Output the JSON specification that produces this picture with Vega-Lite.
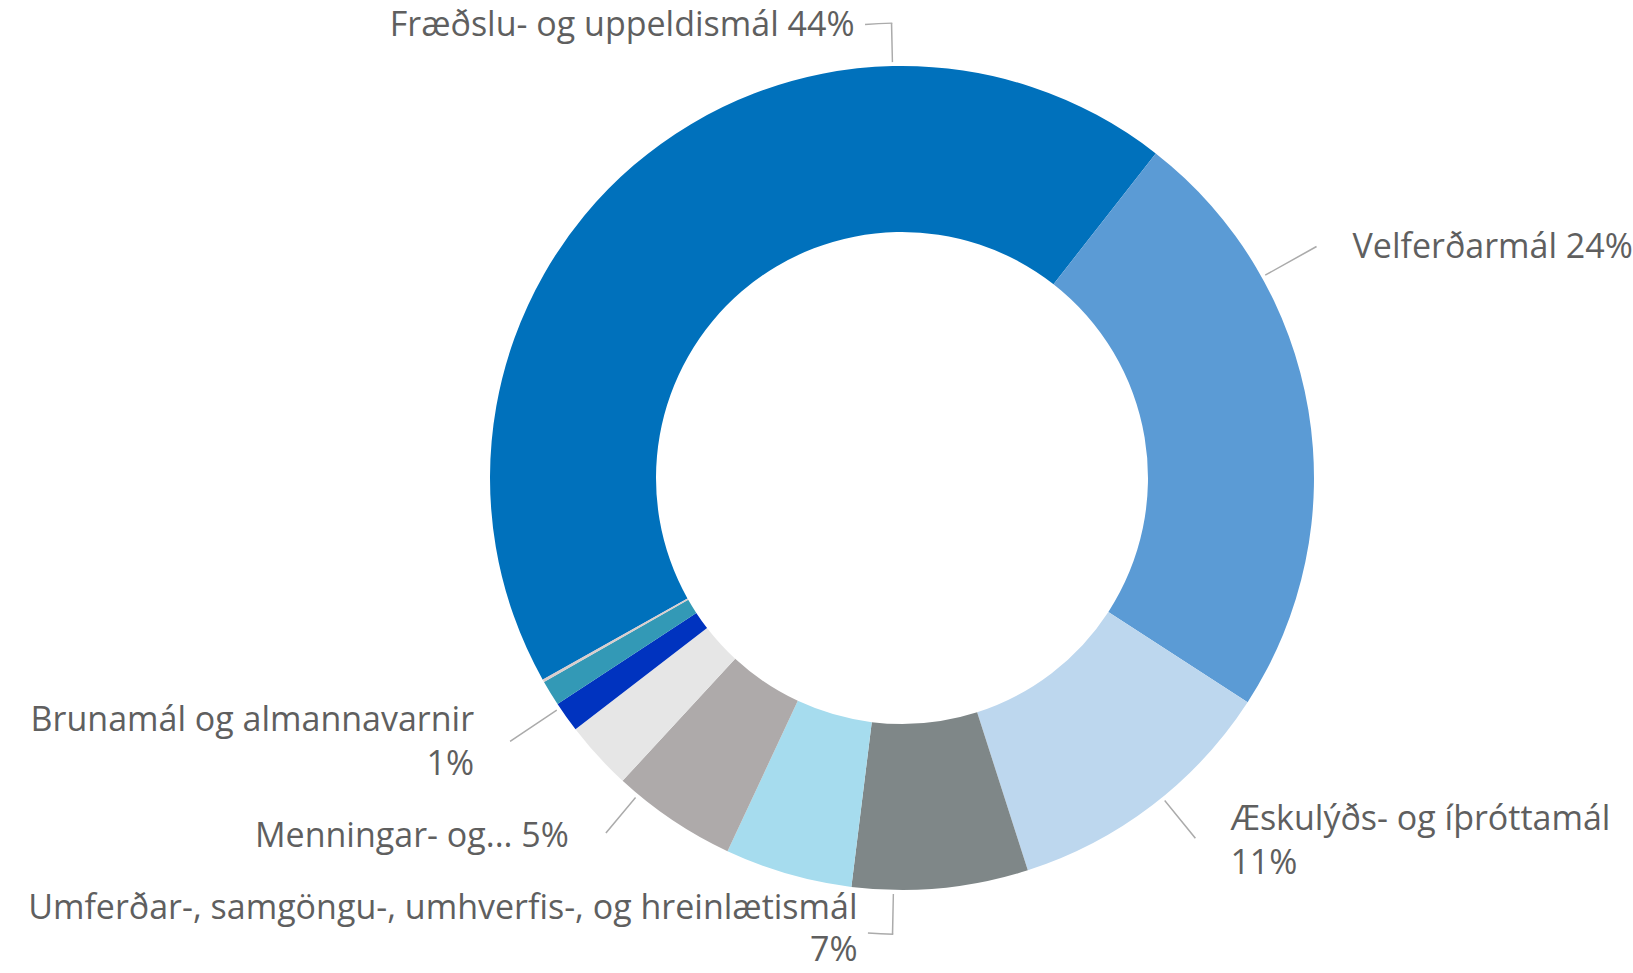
{
  "$schema": "https://vega.github.io/schema/vega-lite/v6.json",
  "width": 1462,
  "height": 956,
  "autosize": {"type": "none"},
  "padding": {"left": 171, "top": 0, "right": 0, "bottom": 17},
  "background": "white",
  "config": {"view": {"stroke": null}},
  "data": {
    "values": [
      {"category": "Fræðslu- og uppeldismál", "value": 43.7, "order": 1, "label": "Fræðslu- og uppeldismál 44%"},
      {"category": "Velferðarmál", "value": 23.6, "order": 2, "label": "Velferðarmál 24%"},
      {"category": "Æskulýðs- og íþróttamál", "value": 10.9, "order": 3, "label": "Æskulýðs- og íþróttamál\n11%"},
      {"category": "Umferðar-, samgöngu-, umhverfis-, og hreinlætismál", "value": 6.9, "order": 4, "label": "Umferðar-, samgöngu-, umhverfis-, og hreinlætismál\n7%"},
      {"category": "Flokkur 5", "value": 5.0, "order": 5, "label": ""},
      {"category": "Menningar- og...", "value": 4.9, "order": 6, "label": "Menningar- og... 5%"},
      {"category": "Flokkur 7", "value": 2.7, "order": 7, "label": ""},
      {"category": "Brunamál og almannavarnir", "value": 1.2, "order": 8, "label": "Brunamál og almannavarnir\n1%"},
      {"category": "Flokkur 9", "value": 1.0, "order": 9, "label": ""},
      {"category": "Flokkur 10", "value": 0.1, "order": 10, "label": ""}
    ]
  },
  "layer": [
    {
      "mark": {"type": "arc", "radius": 412, "radius2": 246, "strokeWidth": 0},
      "encoding": {
        "theta": {"field": "value", "type": "quantitative", "stack": true, "scale": {"type": "linear", "domain": [0, 100], "range": [4.201, 10.4842], "zero": true}},
        "color": {
          "field": "category",
          "type": "nominal",
          "legend": null,
          "scale": {
            "domain": ["Fræðslu- og uppeldismál", "Velferðarmál", "Æskulýðs- og íþróttamál", "Umferðar-, samgöngu-, umhverfis-, og hreinlætismál", "Flokkur 5", "Menningar- og...", "Flokkur 7", "Brunamál og almannavarnir", "Flokkur 9", "Flokkur 10"],
            "range": ["#0071BC", "#5B9BD5", "#BDD7EE", "#7F8788", "#A6DCEE", "#AEAAAA", "#E6E6E6", "#0033BF", "#3399B6", "#D9CDCD"]
          }
        },
        "order": {"field": "order", "type": "quantitative", "sort": "ascending"}
      }
    },
    {
      "transform": [
        {"stack": "value", "groupby": [], "sort": [{"field": "order", "order": "ascending"}], "as": ["v0", "v1"]},
        {"fold": ["v0", "v1"], "as": ["edge", "pos"]},
        {"aggregate": [{"op": "mean", "field": "pos", "as": "mid"}], "groupby": ["category", "label", "order"]}
      ],
      "layer": [
        {
          "transform": [{"filter": "datum.order === 1"}],
          "mark": {"type": "arc", "radius": 455, "radius2": 416, "thetaOffset": 0.6846, "theta2Offset": 0.688, "color": "#ABABAB"},
          "encoding": {
            "theta": {"field": "mid", "type": "quantitative", "stack": null, "scale": {"type": "linear", "domain": [0, 100], "range": [4.201, 10.4842], "zero": true}},
            "theta2": {"field": "mid"}
          }
        },
        {
          "transform": [{"filter": "datum.order === 1"}],
          "mark": {"type": "arc", "radius": 455.7, "radius2": 454.3, "thetaOffset": 0.688, "theta2Offset": 0.628, "color": "#ABABAB"},
          "encoding": {
            "theta": {"field": "mid", "type": "quantitative", "stack": null, "scale": {"type": "linear", "domain": [0, 100], "range": [4.201, 10.4842], "zero": true}},
            "theta2": {"field": "mid"}
          }
        },
        {
          "transform": [{"filter": "datum.order === 1"}],
          "mark": {"type": "text", "radius": 455, "thetaOffset": 0.6863, "dx": -37, "dy": 3, "align": "right", "baseline": "middle", "font": "Open Sans", "fontSize": 34, "color": "#5F5F5F", "lineBreak": "\n", "lineHeight": 44},
          "encoding": {
            "theta": {"field": "mid", "type": "quantitative", "stack": null, "scale": {"type": "linear", "domain": [0, 100], "range": [4.201, 10.4842], "zero": true}},
            "text": {"field": "label"}
          }
        },
        {
          "transform": [{"filter": "datum.order === 2"}],
          "mark": {"type": "arc", "radius": 474.8, "radius2": 416, "thetaOffset": -0.3452, "theta2Offset": -0.3418, "color": "#ABABAB"},
          "encoding": {
            "theta": {"field": "mid", "type": "quantitative", "stack": null, "scale": {"type": "linear", "domain": [0, 100], "range": [4.201, 10.4842], "zero": true}},
            "theta2": {"field": "mid"}
          }
        },
        {
          "transform": [{"filter": "datum.order === 2"}],
          "mark": {"type": "text", "radius": 474.8, "thetaOffset": -0.3435, "dx": 36, "dy": 1, "align": "left", "baseline": "middle", "font": "Open Sans", "fontSize": 34, "color": "#5F5F5F", "lineBreak": "\n", "lineHeight": 44},
          "encoding": {
            "theta": {"field": "mid", "type": "quantitative", "stack": null, "scale": {"type": "linear", "domain": [0, 100], "range": [4.201, 10.4842], "zero": true}},
            "text": {"field": "label"}
          }
        },
        {
          "transform": [{"filter": "datum.order === 3"}],
          "mark": {"type": "arc", "radius": 464.6, "radius2": 416, "thetaOffset": -0.0324, "theta2Offset": -0.029, "color": "#ABABAB"},
          "encoding": {
            "theta": {"field": "mid", "type": "quantitative", "stack": null, "scale": {"type": "linear", "domain": [0, 100], "range": [4.201, 10.4842], "zero": true}},
            "theta2": {"field": "mid"}
          }
        },
        {
          "transform": [{"filter": "datum.order === 3"}],
          "mark": {"type": "text", "radius": 464.6, "thetaOffset": -0.0307, "dx": 35, "dy": -18, "align": "left", "baseline": "middle", "font": "Open Sans", "fontSize": 34, "color": "#5F5F5F", "lineBreak": "\n", "lineHeight": 44},
          "encoding": {
            "theta": {"field": "mid", "type": "quantitative", "stack": null, "scale": {"type": "linear", "domain": [0, 100], "range": [4.201, 10.4842], "zero": true}},
            "text": {"field": "label"}
          }
        },
        {
          "transform": [{"filter": "datum.order === 4"}],
          "mark": {"type": "arc", "radius": 456.2, "radius2": 416, "thetaOffset": 0.1126, "theta2Offset": 0.116, "color": "#ABABAB"},
          "encoding": {
            "theta": {"field": "mid", "type": "quantitative", "stack": null, "scale": {"type": "linear", "domain": [0, 100], "range": [4.201, 10.4842], "zero": true}},
            "theta2": {"field": "mid"}
          }
        },
        {
          "transform": [{"filter": "datum.order === 4"}],
          "mark": {"type": "arc", "radius": 457, "radius2": 455.6, "thetaOffset": 0.1126, "theta2Offset": 0.1683, "color": "#ABABAB"},
          "encoding": {
            "theta": {"field": "mid", "type": "quantitative", "stack": null, "scale": {"type": "linear", "domain": [0, 100], "range": [4.201, 10.4842], "zero": true}},
            "theta2": {"field": "mid"}
          }
        },
        {
          "transform": [{"filter": "datum.order === 4"}],
          "mark": {"type": "text", "radius": 456.2, "thetaOffset": 0.1143, "dx": -35, "dy": -25, "align": "right", "baseline": "middle", "font": "Open Sans", "fontSize": 34, "color": "#5F5F5F", "lineBreak": "\n", "lineHeight": 42},
          "encoding": {
            "theta": {"field": "mid", "type": "quantitative", "stack": null, "scale": {"type": "linear", "domain": [0, 100], "range": [4.201, 10.4842], "zero": true}},
            "text": {"field": "label"}
          }
        },
        {
          "transform": [{"filter": "datum.order === 6"}],
          "mark": {"type": "arc", "radius": 462.3, "radius2": 416, "thetaOffset": 0.1021, "theta2Offset": 0.1055, "color": "#ABABAB"},
          "encoding": {
            "theta": {"field": "mid", "type": "quantitative", "stack": null, "scale": {"type": "linear", "domain": [0, 100], "range": [4.201, 10.4842], "zero": true}},
            "theta2": {"field": "mid"}
          }
        },
        {
          "transform": [{"filter": "datum.order === 6"}],
          "mark": {"type": "text", "radius": 462.3, "thetaOffset": 0.1038, "dx": -37, "dy": 4, "align": "right", "baseline": "middle", "font": "Open Sans", "fontSize": 34, "color": "#5F5F5F", "lineBreak": "\n", "lineHeight": 44},
          "encoding": {
            "theta": {"field": "mid", "type": "quantitative", "stack": null, "scale": {"type": "linear", "domain": [0, 100], "range": [4.201, 10.4842], "zero": true}},
            "text": {"field": "label"}
          }
        },
        {
          "transform": [{"filter": "datum.order === 8"}],
          "mark": {"type": "arc", "radius": 472.2, "radius2": 416, "thetaOffset": 0.0247, "theta2Offset": 0.0281, "color": "#ABABAB"},
          "encoding": {
            "theta": {"field": "mid", "type": "quantitative", "stack": null, "scale": {"type": "linear", "domain": [0, 100], "range": [4.201, 10.4842], "zero": true}},
            "theta2": {"field": "mid"}
          }
        },
        {
          "transform": [{"filter": "datum.order === 8"}],
          "mark": {"type": "text", "radius": 472.2, "thetaOffset": 0.0264, "dx": -36, "dy": -20, "align": "right", "baseline": "middle", "font": "Open Sans", "fontSize": 34, "color": "#5F5F5F", "lineBreak": "\n", "lineHeight": 44},
          "encoding": {
            "theta": {"field": "mid", "type": "quantitative", "stack": null, "scale": {"type": "linear", "domain": [0, 100], "range": [4.201, 10.4842], "zero": true}},
            "text": {"field": "label"}
          }
        }
      ]
    }
  ]
}
